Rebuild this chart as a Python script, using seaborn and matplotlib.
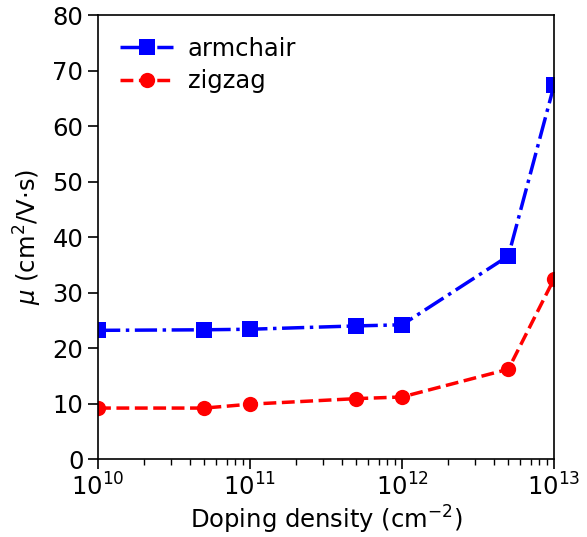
import matplotlib
matplotlib.use("Agg")
import matplotlib.pyplot as plt
import seaborn as sns
import numpy as np
import pandas as pd

density = [1e10, 5e10, 1e11, 5e11, 1e12, 5e12, 1e13]
armchair = [23.2, 23.3, 23.4, 24.0, 24.2, 36.6, 67.4]
zigzag = [9.2, 9.2, 9.9, 10.9, 11.2, 16.2, 32.5]

df = pd.DataFrame({'density': density, 'armchair': armchair, 'zigzag': zigzag})

sns.set_style("ticks")
plt.rcParams['font.family'] = ['DejaVu Sans']
plt.rcParams['mathtext.fontset'] = 'dejavusans'
plt.rcParams['text.color'] = 'black'
plt.rcParams['axes.labelcolor'] = 'black'
plt.rcParams['xtick.color'] = 'black'
plt.rcParams['ytick.color'] = 'black'

fig = plt.figure(figsize=(5.87, 5.37), dpi=100)
ax = fig.add_axes([0.167, 0.145, 0.777, 0.827])

sns.lineplot(x='density', y='armchair', data=df, ax=ax, color='blue', marker='s',
             markersize=11, markeredgewidth=0, linewidth=2.5, linestyle='-.',
             label='armchair')
sns.lineplot(x='density', y='zigzag', data=df, ax=ax, color='red', marker='o',
             markersize=11, markeredgewidth=0, linewidth=2.5, linestyle='--',
             label='zigzag')

ax.set_xscale('log')
ax.set_xlim(1e10, 1e13)
ax.set_ylim(0, 80)
ax.set_xlabel('Doping density (cm$^{-2}$)', fontsize=17.5, labelpad=2)
ax.set_ylabel(r'$\mu$ (cm$^2$/V$\cdot$s)', fontsize=17.5, labelpad=6)
ax.tick_params(axis='both', which='major', labelsize=17.5, length=7, width=1.2, direction='out')
ax.tick_params(axis='x', which='minor', length=4, width=1, direction='out')
for s in ax.spines.values():
    s.set_linewidth(1.2)
    s.set_color('black')

ax.legend(loc='upper left', fontsize=17.5, frameon=False, handlelength=2.2,
          handletextpad=0.6, labelspacing=0.35, borderaxespad=0.5)

fig.savefig('out.png', dpi=100)
